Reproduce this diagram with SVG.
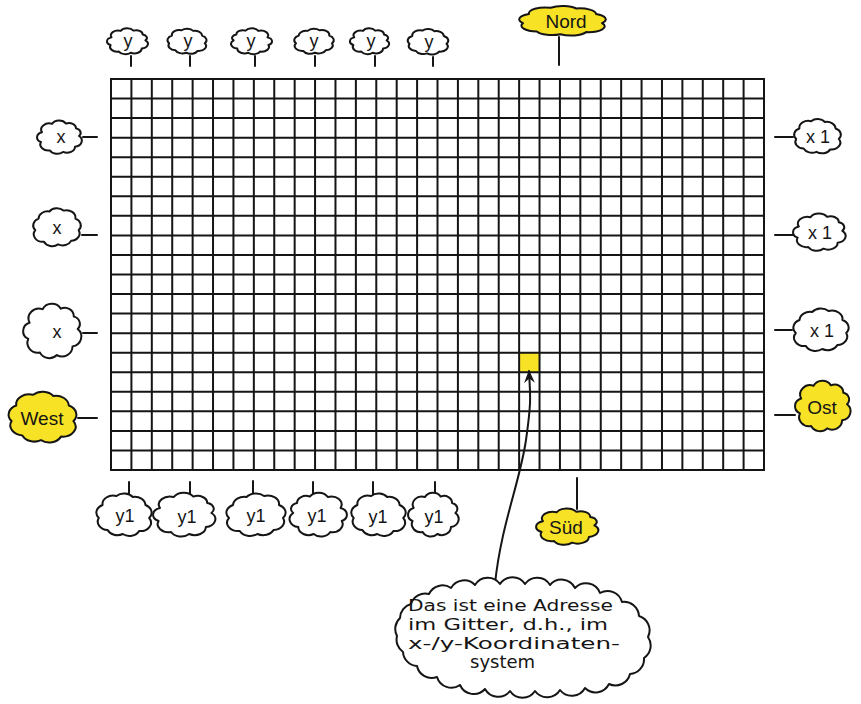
<svg xmlns="http://www.w3.org/2000/svg" width="861" height="704" viewBox="0 0 861 704">
<style>
.grid{stroke:#151515;stroke-width:2;fill:none;stroke-linecap:square}
.stem{stroke:#151515;stroke-width:2;fill:none;stroke-linecap:round}
.w{fill:#ffffff}
.yel{fill:#f8e226}
.lbl{font-family:"Liberation Sans","DejaVu Sans",sans-serif;font-size:18px;fill:#151515;text-anchor:middle}
.big{font-size:19px}
.call{font-family:"DejaVu Sans","Liberation Sans",sans-serif;font-size:16px;fill:#151515}
</style>
<defs>
<path id="cloudA" vector-effect="non-scaling-stroke" stroke="#151515" stroke-width="2" stroke-linejoin="round" d="M0.95,-0.1 A0.4,0.4 0 0 1 0.75,0.6 A0.4,0.4 0 0 1 0.15,0.95 A0.4,0.4 0 0 1 -0.5,0.85 A0.4,0.4 0 0 1 -0.95,0.3 A0.35,0.35 0 0 1 -0.9,-0.35 A0.4,0.4 0 0 1 -0.4,-0.9 A0.4,0.4 0 0 1 0.3,-0.92 A0.35,0.35 0 0 1 0.8,-0.6 A0.3,0.3 0 0 1 0.95,-0.1 Z"/>
<path id="cloudB" vector-effect="non-scaling-stroke" stroke="#151515" stroke-width="2" stroke-linejoin="round" d="M1,0.15 A0.42,0.42 0 0 1 0.6,0.8 A0.42,0.42 0 0 1 -0.05,0.95 A0.42,0.42 0 0 1 -0.65,0.75 A0.42,0.42 0 0 1 -1,0.15 A0.42,0.42 0 0 1 -0.85,-0.5 A0.42,0.42 0 0 1 -0.3,-0.95 A0.42,0.42 0 0 1 0.35,-0.9 A0.42,0.42 0 0 1 0.85,-0.5 A0.42,0.42 0 0 1 1,0.15 Z"/>
<marker id="arrow" viewBox="0 0 12 10" refX="11" refY="5" markerWidth="13" markerHeight="11" markerUnits="userSpaceOnUse" orient="auto">
<path d="M0,0 L12,5 L0,10 L4,5 Z" fill="#151515"/>
</marker>
</defs>

<g id="grid">
<rect x="519.13" y="352.7" width="20.4" height="19.55" class="yel"/>
<path class="grid" d="M111,79V470M131.41,79V470M151.81,79V470M172.22,79V470M192.63,79V470M213.03,79V470M233.44,79V470M253.84,79V470M274.25,79V470M294.66,79V470M315.06,79V470M335.47,79V470M355.88,79V470M376.28,79V470M396.69,79V470M417.09,79V470M437.5,79V470M457.91,79V470M478.31,79V470M498.72,79V470M519.13,79V470M539.53,79V470M559.94,79V470M580.34,79V470M600.75,79V470M621.16,79V470M641.56,79V470M661.97,79V470M682.38,79V470M702.78,79V470M723.19,79V470M743.59,79V470M764,79V470"/>
<path class="grid" d="M111,79H764M111,98.55H764M111,118.1H764M111,137.65H764M111,157.2H764M111,176.75H764M111,196.3H764M111,215.85H764M111,235.4H764M111,254.95H764M111,274.5H764M111,294.05H764M111,313.6H764M111,333.15H764M111,352.7H764M111,372.25H764M111,391.8H764M111,411.35H764M111,430.9H764M111,450.45H764M111,470H764"/>
</g>

<g id="connectors">
<path class="stem" d="M131,56V66M190,56V66M255,56V66M315,56V66M375,56V66M433,57V66"/>
<path class="stem" d="M559,37V65"/>
<path class="stem" d="M83,137H97M82,235H97M83,333H97M78,418H97"/>
<path class="stem" d="M775,137H793M775,235H793M775,330H792M775,415H795"/>
<path class="stem" d="M129,482V494M190,482V494M253,481V494M313,482V494M373,482V494M435,482V494"/>
<path class="stem" d="M577,478V509"/>
<path class="stem" d="M495,584 C501,525 520,482 526,440 S530,395 529,371" marker-end="url(#arrow)"/>
</g>

<g id="top-y1"><use href="#cloudA" class="w" transform="translate(128,41.5) scale(18.3,11.8)"/><text class="lbl" x="128" y="47">y</text></g>
<g id="top-y2"><use href="#cloudB" class="w" transform="translate(187,41.5) scale(17.8,11.8)"/><text class="lbl" x="188" y="47">y</text></g>
<g id="top-y3"><use href="#cloudA" class="w" transform="translate(251,41.5) scale(-18.3,11.8)"/><text class="lbl" x="251" y="47">y</text></g>
<g id="top-y4"><use href="#cloudB" class="w" transform="translate(314,41.5) scale(-18,11.8)"/><text class="lbl" x="314" y="47">y</text></g>
<g id="top-y5"><use href="#cloudA" class="w" transform="translate(370,41.5) scale(17.5,11.8)"/><text class="lbl" x="371" y="47">y</text></g>
<g id="top-y6"><use href="#cloudB" class="w" transform="translate(428,42) scale(18.5,12)"/><text class="lbl" x="429" y="48">y</text></g>

<g id="nord"><use href="#cloudB" class="yel" transform="translate(562.5,21) scale(39.5,13.9)"/><text class="lbl big" x="566" y="28">Nord</text></g>

<g id="left-x1"><use href="#cloudA" class="w" transform="translate(60,137.5) scale(20,15.2)"/><text class="lbl" x="61" y="143">x</text></g>
<g id="left-x2"><use href="#cloudB" class="w" transform="translate(57,227.5) scale(-21.7,17.8)"/><text class="lbl" x="57" y="234">x</text></g>
<g id="left-x3"><use href="#cloudA" class="w" transform="translate(53,331.5) scale(26,24.8)"/><text class="lbl" x="57" y="338">x</text></g>
<g id="west"><use href="#cloudB" class="yel" transform="translate(42.5,417.5) scale(30.9,23.9)"/><text class="lbl big" x="42" y="425">West</text></g>

<g id="right-x1"><use href="#cloudB" class="w" transform="translate(817.5,136.5) scale(21.3,16.1)"/><text class="lbl" x="818" y="143">x 1</text></g>
<g id="right-x2"><use href="#cloudA" class="w" transform="translate(820,232.5) scale(23.5,17)"/><text class="lbl" x="820" y="239">x 1</text></g>
<g id="right-x3"><use href="#cloudB" class="w" transform="translate(821,330) scale(-25.2,20)"/><text class="lbl" x="822" y="337">x 1</text></g>
<g id="ost"><use href="#cloudA" class="yel" transform="translate(823.5,406.5) scale(24.8,23)"/><text class="lbl big" x="822" y="414">Ost</text></g>

<g id="bottom-y1"><use href="#cloudB" class="w" transform="translate(124,515) scale(25.2,20)"/><text class="lbl" x="125" y="522">y1</text></g>
<g id="bottom-y2"><use href="#cloudA" class="w" transform="translate(185,515) scale(27.8,20)"/><text class="lbl" x="187" y="523">y1</text></g>
<g id="bottom-y3"><use href="#cloudB" class="w" transform="translate(256,515) scale(-27,20)"/><text class="lbl" x="256" y="522">y1</text></g>
<g id="bottom-y4"><use href="#cloudA" class="w" transform="translate(317.5,515) scale(-25.6,20)"/><text class="lbl" x="317" y="522">y1</text></g>
<g id="bottom-y5"><use href="#cloudB" class="w" transform="translate(378.5,515) scale(24.8,20)"/><text class="lbl" x="378" y="523">y1</text></g>
<g id="bottom-y6"><use href="#cloudA" class="w" transform="translate(434,515) scale(22.6,20)"/><text class="lbl" x="434" y="523">y1</text></g>

<g id="sued"><use href="#cloudA" class="yel" transform="translate(568,527) scale(27.8,16.5)"/><text class="lbl big" x="566" y="534">Süd</text></g>

<g id="callout">
<path class="w" stroke="#151515" stroke-width="2" stroke-linejoin="round" d="M648,637 A15,15 0 0 1 644,658 A15,15 0 0 1 630,674 A15,15 0 0 1 609,684 A15,15 0 0 1 585,688 A15,15 0 0 1 560,690 A15,15 0 0 1 535,691 A15,15 0 0 1 510,691 A15,15 0 0 1 485,689 A15,15 0 0 1 460,685 A15,15 0 0 1 437,677 A15,15 0 0 1 417,666 A15,15 0 0 1 403,652 A15,15 0 0 1 397,636 A15,15 0 0 1 400,618 A15,15 0 0 1 411,604 A15,15 0 0 1 429,594 A15,15 0 0 1 451,588 A15,15 0 0 1 475,585 A15,15 0 0 1 500,584 A15,15 0 0 1 525,584 A15,15 0 0 1 550,585 A15,15 0 0 1 575,588 A15,15 0 0 1 600,593 A15,15 0 0 1 622,602 A15,15 0 0 1 639,616 A15,15 0 0 1 648,637 Z"/>
<text class="call" x="408" y="611" textLength="205" lengthAdjust="spacingAndGlyphs">Das ist eine Adresse</text>
<text class="call" x="408" y="630" textLength="200" lengthAdjust="spacingAndGlyphs">im Gitter, d.h., im</text>
<text class="call" x="408" y="649" textLength="212" lengthAdjust="spacingAndGlyphs">x-/y-Koordinaten-</text>
<text class="call" x="470" y="668" style="font-size:18px">system</text>
</g>
</svg>
